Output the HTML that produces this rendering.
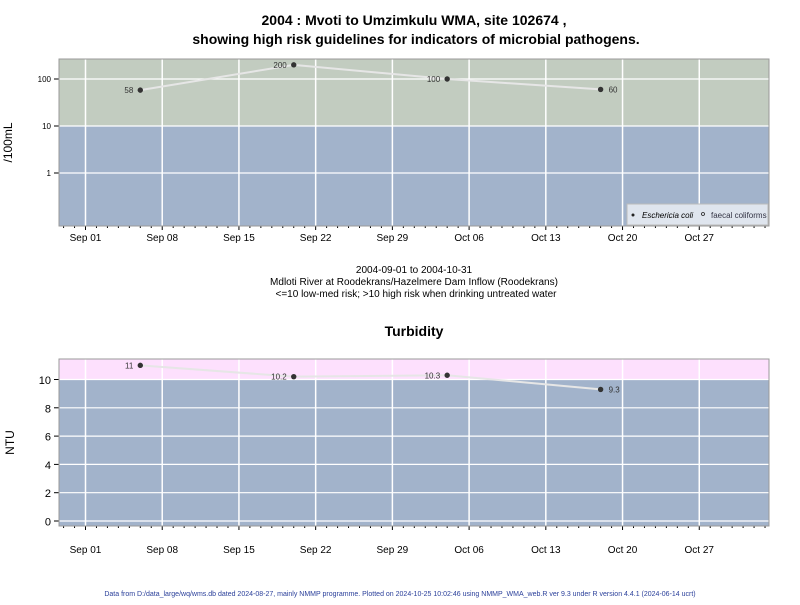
<!DOCTYPE html>
<html><head><meta charset="utf-8"><style>
body{margin:0;background:#fff;font-family:"Liberation Sans",Arial,sans-serif}
svg text{font-family:"Liberation Sans",Arial,sans-serif}
</style></head><body>
<svg id="c" width="800" height="600" xmlns="http://www.w3.org/2000/svg">
<text x="414" y="25" font-size="14" font-weight="bold" text-anchor="middle">2004 : Mvoti to Umzimkulu WMA, site 102674 ,</text>
<text x="416" y="44" font-size="14" font-weight="bold" text-anchor="middle">showing high risk guidelines for indicators of microbial pathogens.</text>
<text x="414" y="273" font-size="10" text-anchor="middle">2004-09-01 to 2004-10-31</text>
<text x="414" y="285" font-size="10" text-anchor="middle">Mdloti River at Roodekrans/Hazelmere Dam Inflow (Roodekrans)</text>
<text x="416" y="297" font-size="10" text-anchor="middle">&lt;=10 low-med risk; &gt;10 high risk when drinking untreated water</text>
<text x="414" y="336" font-size="14" font-weight="bold" text-anchor="middle">Turbidity</text>
<text x="400" y="596" font-size="7" fill="#2a3f9a" text-anchor="middle">Data from D:/data_large/wq/wms.db dated 2024-08-27, mainly NMMP programme. Plotted on 2024-10-25 10:02:46 using NMMP_WMA_web.R ver 9.3 under R version 4.4.1 (2024-06-14 ucrt)</text>
<g id="p1"></g><g id="p2"></g>
</svg>
<script>
const dayLabels=["Sep 01","Sep 08","Sep 15","Sep 22","Sep 29","Oct 06","Oct 13","Oct 20","Oct 27"];
const ecoliDays=[5,19,33,47];
const ecoliValues=[58,200,100,60];
const ecoliLabels=["58","200","100","60"];
const turbDays=[5,19,33,47];
const turbValues=[11,10.2,10.3,9.3];
const turbLabels=["11","10.2","10.3","9.3"];
const logTicks=[1,10,100];
const linTicks=[0,2,4,6,8,10];
const NS="http://www.w3.org/2000/svg";
const L=59,R=769;
const xs=d=>85.5+d*10.96;
function mk(p,t,a){const e=document.createElementNS(NS,t);for(const k in a)e.setAttribute(k,a[k]);p.appendChild(e);return e;}
function panel(g,top,bot,ys,thr,hiCol,ticks,tickFmt,days,vals,labs,ylab,ylabX,tickFont,xlabOff){
  const tY=ys(thr);
  let r=mk(g,'rect',{x:L,y:top,width:R-L,height:tY-top,fill:hiCol});
  
  r=mk(g,'rect',{x:L,y:tY,width:R-L,height:bot-tY,fill:'#a2b3cb'});
  
  dayLabels.forEach((s,i)=>{const x=xs(i*7);
    let l=mk(g,'line',{x1:x,x2:x,y1:top,y2:bot,stroke:'#fff','stroke-width':1.5});
    
    let t=mk(g,'text',{x:x,y:bot+xlabOff,'font-size':10,'text-anchor':'middle'});t.textContent=s;
    
    mk(g,'line',{x1:x,x2:x,y1:bot,y2:bot+4,stroke:'#000'});});
  for(let d=-2;d<=62;d++){const x=xs(d);if(d%7)mk(g,'line',{x1:x,x2:x,y1:bot,y2:bot+2,stroke:'#000'});}
  ticks.forEach(v=>{const y=ys(v);
    let l=mk(g,'line',{x1:L,x2:R,y1:y,y2:y,stroke:'#fff','stroke-width':1.2});
    
    mk(g,'line',{x1:L-5,x2:L,y1:y,y2:y,stroke:'#000'});
    let t=mk(g,'text',{x:L-8,y:y+tickFont/2-1,'font-size':tickFont,'text-anchor':'end'});t.textContent=tickFmt(v);
    });
  mk(g,'rect',{x:L,y:top,width:R-L,height:bot-top,fill:'none',stroke:'#999'});
  let yl=mk(g,'text',{x:ylabX,y:(top+bot)/2,'font-size':12,'text-anchor':'middle',transform:`rotate(-90 ${ylabX} ${(top+bot)/2})`});yl.textContent=ylab;
  
  const pts=days.map((d,i)=>xs(d)+','+ys(vals[i])).join(' ');
  let pl=mk(g,'polyline',{points:pts,fill:'none',stroke:'#e6e6e6','stroke-width':2});
  
  days.forEach((d,i)=>{const x=xs(d),y=ys(vals[i]);
    let c=mk(g,'circle',{cx:x,cy:y,r:2.7,fill:'#333'});
    
    const last=i==days.length-1;
    let t=mk(g,'text',{x:last?x+8:x-7,y:y+3,'font-size':8,fill:'#333','text-anchor':last?'start':'end'});t.textContent=labs[i];
    });
}
const ylog=v=>126-47*Math.log10(v/10);
panel(document.getElementById('p1'),59,226,ylog,10,'#c2ccc0',logTicks,v=>String(v),ecoliDays,ecoliValues,ecoliLabels,'/100mL',12,8,15);
const ylin=v=>521-14.15*v;
panel(document.getElementById('p2'),359,526,ylin,10,'#fde0fd',linTicks,v=>String(v),turbDays,turbValues,turbLabels,'NTU',14,11,27);
const g1=document.getElementById('p1');
const lg=mk(g1,'g',{});

mk(lg,'rect',{x:627,y:204,width:141,height:21,fill:'#dfe5ee',stroke:'#bbb'});
mk(lg,'circle',{cx:633,cy:215,r:1.5,fill:'#222'});
let t1=mk(lg,'text',{x:642,y:218,'font-size':8,'font-style':'italic'});t1.textContent='Eschericia coli';

mk(lg,'circle',{cx:703,cy:214,r:1.5,fill:'none',stroke:'#222','stroke-width':0.8});
let t2=mk(lg,'text',{x:711,y:218,'font-size':8,fill:'#334'});t2.textContent='faecal coliforms';

</script>
</body></html>
